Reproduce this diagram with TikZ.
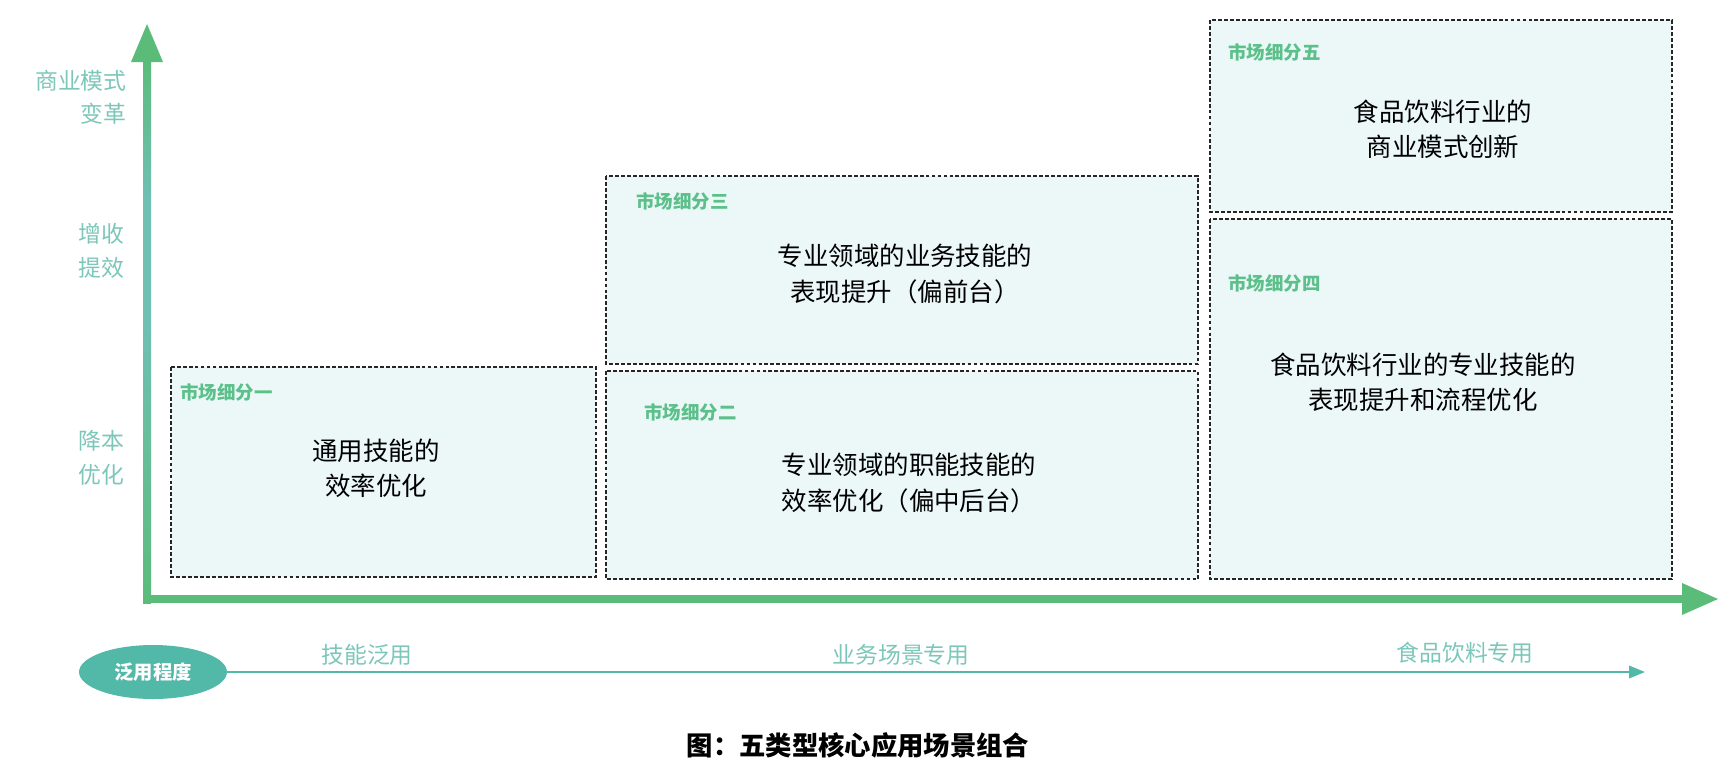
\documentclass[tikz,border=0pt]{standalone}
\usepackage{fontspec}
\setmainfont{Noto Sans CJK SC}
\usetikzlibrary{shapes.geometric,arrows.meta}
\definecolor{boxfill}{HTML}{ECF8F8}
\definecolor{lblgreen}{HTML}{5CC08A}
\definecolor{axgreen}{HTML}{5BBC7A}
\definecolor{axteal}{HTML}{6FBFB2}
\definecolor{axtext}{HTML}{7CC6BA}
\definecolor{ovalc}{HTML}{52B8A8}
\begin{document}
\begin{tikzpicture}[x=0.02cm,y=-0.02cm,
  seg/.style={draw=black!85,dashed,dash pattern=on 2.2pt off 1.2pt,line width=0.6pt,fill=boxfill},
  seglbl/.style={text=lblgreen,font=\fontsize{10.5pt}{12pt}\selectfont\bfseries,anchor=west,inner sep=0},
  maintxt/.style={align=center,font=\fontsize{14.5pt}{20pt}\selectfont,inner sep=0},
  axlbl/.style={text=axtext,align=right,anchor=east,font=\fontsize{13pt}{19pt}\selectfont,inner sep=0},
  btm/.style={text=axtext,font=\fontsize{13pt}{15pt}\selectfont,inner sep=0}]
\useasboundingbox (0,0) rectangle (1720,768);
% boxes
\draw[seg] (171,367) rectangle (596,577);
\draw[seg] (606,176) rectangle (1198,364);
\draw[seg] (606,371) rectangle (1198,579);
\draw[seg] (1210,20) rectangle (1672,212);
\draw[seg] (1210,219) rectangle (1672,579);
\node[seglbl] (l1) at (180,392) {市场细分一};
\node[seglbl] (l3) at (636,201) {市场细分三};
\node[seglbl] (l2) at (644,412) {市场细分二};
\node[seglbl] (l5) at (1228,52) {市场细分五};
\node[seglbl] (l4) at (1228,283) {市场细分四};
\node[maintxt] (t1) at (376,468) {通用技能的\\效率优化};
\node[maintxt] (t3) at (905,274) {专业领域的业务技能的\\表现提升（偏前台）};
\node[maintxt] (t2) at (909,483) {专业领域的职能技能的\\效率优化（偏中后台）};
\node[maintxt] (t5) at (1443,129) {食品饮料行业的\\商业模式创新};
\node[maintxt] (t4) at (1423,382) {食品饮料行业的专业技能的\\表现提升和流程优化};
% axes
\shade[top color=axgreen,bottom color=axteal,middle color=axteal] (143,60) rectangle (151,330);
\shade[top color=axteal,bottom color=axgreen] (143,330) rectangle (151,603);
\fill[axgreen] (147,24) -- (163,62) -- (131,62) -- cycle;
\fill[axgreen] (143,595) rectangle (1685,603);
\fill[axgreen] (1718,599) -- (1682,583) -- (1682,615) -- cycle;
\coordinate (yo) at (147,599);
\node[axlbl] (a1) at (127,97) {商业模式\\变革};
\node[axlbl] (a2) at (125,251) {增收\\提效};
\node[axlbl] (a3) at (125,458) {降本\\优化};
% bottom scale
\node[ellipse,fill=ovalc,inner sep=0,
  text=white,font=\fontsize{11pt}{13pt}\selectfont\bfseries,minimum width=2.96cm,minimum height=1.08cm] (ov) at (153,672) {泛用程度};
\coordinate (bend) at (1645,672);
\draw[ovalc,line width=1.2pt,-{Triangle[length=9pt,width=7pt]}] (ov.east) -- (bend);
\node[btm] (b1) at (367,655) {技能泛用};
\node[btm] (b2) at (901,655) {业务场景专用};
\node[btm] (b3) at (1465,653) {食品饮料专用};
\node[font=\fontsize{15pt}{17pt}\selectfont\bfseries,inner sep=0] (cap) at (858,745) {图：五类型核心应用场景组合};
\end{tikzpicture}
\end{document}
